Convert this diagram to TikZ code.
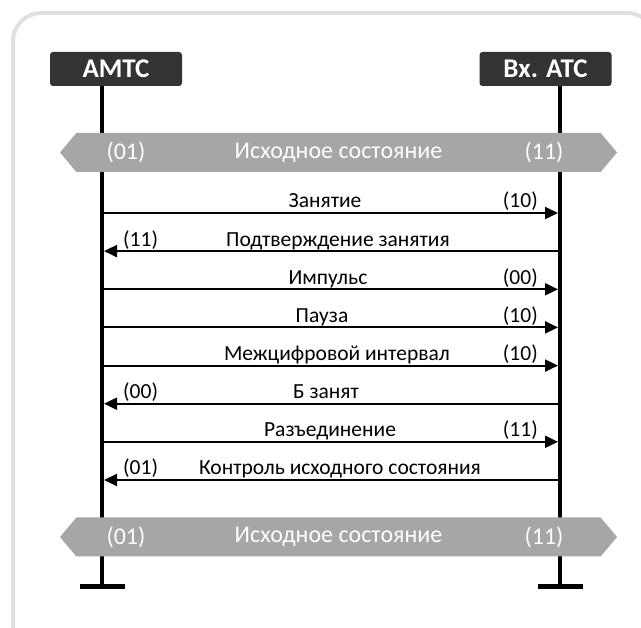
\documentclass[tikz,border=0pt]{standalone}
\usepackage{fontspec}
\setmainfont{Carlito}
\usetikzlibrary{arrows.meta,positioning,calc,shapes.symbols}
\definecolor{hdrgray}{HTML}{333333}
\definecolor{bandgray}{HTML}{A6A6A6}
\definecolor{framegray}{HTML}{E0E0E0}
\tikzset{
  >={Triangle[length=13pt,width=12pt]},
  hdr/.style  ={fill=hdrgray, rounded corners=3pt, minimum width=132pt, minimum height=34pt, inner sep=0pt, text=white, font=\fontsize{27}{29}\selectfont\bfseries},
  life/.style ={line width=4pt},
  foot/.style ={line width=5pt},
  band/.style ={signal, signal to=east and west, signal pointer angle=100, fill=bandgray, draw=none, minimum width=557pt, minimum height=39pt, inner sep=0pt, text=white, font=\fontsize{24}{26}\selectfont},
  bcode/.style={text=white, font=\fontsize{24}{26}\selectfont, inner sep=0pt},
  msg/.style  ={->, line width=2pt, shorten >=2pt},
  lbl/.style  ={font=\fontsize{21.5}{23}\selectfont, anchor=base, inner sep=0pt},
}

\begin{document}
\begin{tikzpicture}[x=1pt,y=-1pt]
  \useasboundingbox (0,0) rectangle (641,628);
  \begin{scope}
    \clip (0,0) rectangle (641,628);
    \draw[framegray, line width=4pt, rounded corners=28pt] (13,13) rectangle (655,655);
  \end{scope}

  % headers and lifelines
  \node[hdr] (amtc) at (116,69) {АМТС};
  \node[hdr] (atc) at (545.5,69) {Вх. АТС};
  \coordinate (lA) at (102,86);
  \coordinate (lB) at (560,86);
  \coordinate (fA) at (102,587);
  \coordinate (fB) at (560,587);
  \draw[life] (lA) -- (fA);
  \draw[life] (lB) -- (fB);
  \draw[foot] ($(fA)+(-22.5,0)$) -- ($(fA)+(22.5,0)$);
  \draw[foot] ($(fB)+(-22.5,0)$) -- ($(fB)+(22.5,0)$);

  % initial state bands
  \node[band] (band1) at (338.5,152.5) {Исходное состояние};
  \node[bcode] (b1a) at (126,152.5) {(01)};
  \node[bcode] (b1b) at (544,152.5) {(11)};
  \node[band] (band2) at (338.5,537) {Исходное состояние};
  \node[bcode] (b2a) at (126,537) {(01)};
  \node[bcode] (b2b) at (544,537) {(11)};

  % messages
  \coordinate (m1) at (331,213);
  \coordinate (m2) at (331,251.1);
  \coordinate (m3) at (331,289.3);
  \coordinate (m4) at (331,327.4);
  \coordinate (m5) at (331,365.6);
  \coordinate (m6) at (331,403.7);
  \coordinate (m7) at (331,441.8);
  \coordinate (m8) at (331,480);

  \draw[msg] (lA |- m1) -- (lB |- m1);
  \draw[msg] (lB |- m2) -- (lA |- m2);
  \draw[msg] (lA |- m3) -- (lB |- m3);
  \draw[msg] (lA |- m4) -- (lB |- m4);
  \draw[msg] (lA |- m5) -- (lB |- m5);
  \draw[msg] (lB |- m6) -- (lA |- m6);
  \draw[msg] (lA |- m7) -- (lB |- m7);
  \draw[msg] (lB |- m8) -- (lA |- m8);

  \node[lbl] (t1) at ($(m1)+(-6,-5)$) {Занятие};
  \node[lbl] (t2) at ($(m2)+(7,-5)$) {Подтверждение занятия};
  \node[lbl] (t3) at ($(m3)+(-3,-5)$) {Импульс};
  \node[lbl] (t4) at ($(m4)+(-9,-5)$) {Пауза};
  \node[lbl] (t5) at ($(m5)+(6,-5)$) {Межцифровой интервал};
  \node[lbl] (t6) at ($(m6)+(-5,-5)$) {Б занят};
  \node[lbl] (t7) at ($(m7)+(-1,-5)$) {Разъединение};
  \node[lbl] (t8) at ($(m8)+(9,-5)$) {Контроль исходного состояния};

  \node[lbl, anchor=base east] (s1) at ($(lB |- m1)+(-22,-5)$) {(10)};
  \node[lbl, anchor=base west] (s2) at ($(lA |- m2)+(21,-5)$) {(11)};
  \node[lbl, anchor=base east] (s3) at ($(lB |- m3)+(-22,-5)$) {(00)};
  \node[lbl, anchor=base east] (s4) at ($(lB |- m4)+(-22,-5)$) {(10)};
  \node[lbl, anchor=base east] (s5) at ($(lB |- m5)+(-22,-5)$) {(10)};
  \node[lbl, anchor=base west] (s6) at ($(lA |- m6)+(21,-5)$) {(00)};
  \node[lbl, anchor=base east] (s7) at ($(lB |- m7)+(-22,-5)$) {(11)};
  \node[lbl, anchor=base west] (s8) at ($(lA |- m8)+(21,-5)$) {(01)};
\end{tikzpicture}
\end{document}
